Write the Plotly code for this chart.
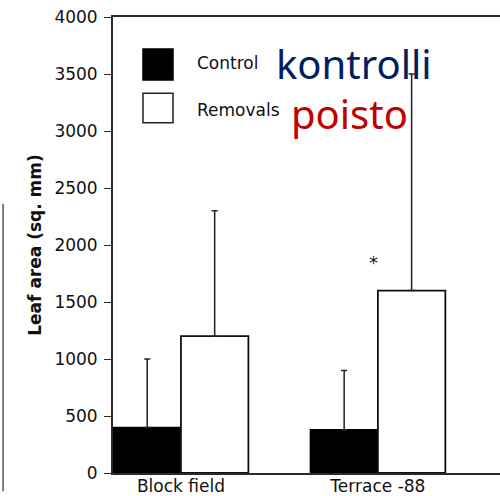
import plotly.graph_objects as go

categories = ["Block field", "Terrace -88"]
control_mean = [400, 380]
control_err = [600, 520]
removal_mean = [1200, 1600]
removal_err = [1100, 1900]
y_ticks = [0, 500, 1000, 1500, 2000, 2500, 3000, 3500, 4000]
series_names = ["Control", "Removals"]
overlay_labels = ["kontrolli", "poisto"]

FONT = "DejaVu Sans"
AX = "#2a2a2a"
TXT = "#111"

fig = go.Figure()
fig.add_trace(go.Bar(
    x=categories, y=control_mean, name=series_names[0],
    marker=dict(color="black", line=dict(color="black", width=1.5)),
    error_y=dict(type="data", array=control_err, arrayminus=[0, 0], symmetric=False,
                 color="#222", thickness=1.5, width=3),
))
fig.add_trace(go.Bar(
    x=categories, y=removal_mean, name=series_names[1],
    marker=dict(color="white", line=dict(color="#111", width=1.8)),
    error_y=dict(type="data", array=removal_err, arrayminus=[0, 0], symmetric=False,
                 color="#222", thickness=1.5, width=3),
))

fig.update_layout(
    width=500, height=496,
    margin=dict(l=113, r=0, t=17, b=23, autoexpand=False),
    paper_bgcolor="white", plot_bgcolor="white",
    barmode="group", bargap=0.315, bargroupgap=0,
    showlegend=False,
    font=dict(family=FONT, size=17, color=TXT),
    xaxis=dict(
        range=[-0.345, 1.62], showline=True, linecolor=AX, linewidth=1.8,
        mirror=True, ticks="", showgrid=False, zeroline=False, automargin=False,
        ticklabelstandoff=-3,
        tickfont=dict(family=FONT, size=17, color=TXT),
    ),
    yaxis=dict(
        range=[0, 4000], tickvals=y_ticks, showline=True, linecolor=AX, linewidth=1.8,
        ticks="outside", ticklen=7, tickcolor=AX, tickwidth=1.2,
        showgrid=False, zeroline=False, automargin=False, ticklabelstandoff=3,
        tickfont=dict(family=FONT, size=17, color=TXT),
        title=dict(text="<b>Leaf area (sq. mm)</b>", font=dict(family=FONT, size=17, color=TXT),
                   standoff=8),
    ),
)

# significance star
fig.add_annotation(x=0.977, y=1850, xref="x", yref="y", text="*", showarrow=False,
                   font=dict(family=FONT, size=18, color="#111"))

# legend drawn manually (large boxes like original)
fig.add_shape(type="rect", xref="paper", yref="paper", x0=0.0775, x1=0.155, y0=0.862, y1=0.930,
              fillcolor="black", line=dict(color="black", width=1.5))
fig.add_shape(type="rect", xref="paper", yref="paper", x0=0.0775, x1=0.155, y0=0.768, y1=0.833,
              fillcolor="white", line=dict(color="#222", width=1.5))
fig.add_annotation(x=0.212, y=0.899, xref="paper", yref="paper", text=series_names[0],
                   xanchor="left", yanchor="middle", showarrow=False,
                   font=dict(family=FONT, size=17, color=TXT))
fig.add_annotation(x=0.212, y=0.796, xref="paper", yref="paper", text=series_names[1],
                   xanchor="left", yanchor="middle", showarrow=False,
                   font=dict(family=FONT, size=17, color=TXT))

# overlay words
fig.add_annotation(x=0.415, y=0.897, xref="paper", yref="paper", text=overlay_labels[0],
                   xanchor="left", yanchor="middle", showarrow=False,
                   font=dict(family="Noto Sans", size=40, color="#002060"))
fig.add_annotation(x=0.455, y=0.789, xref="paper", yref="paper", text=overlay_labels[1],
                   xanchor="left", yanchor="middle", showarrow=False,
                   font=dict(family="Noto Sans", size=40, color="#C00000"))

# scan artifact: edge of neighbouring figure
fig.add_shape(type="line", xref="paper", yref="paper", x0=-0.284, x1=-0.284, y0=-0.04, y1=0.59,
              line=dict(color="#555", width=1.5))

fig.write_html("out.html", config={"displayModeBar": False},
               post_script="document.body.style.margin='0';document.body.style.overflow='hidden';")
